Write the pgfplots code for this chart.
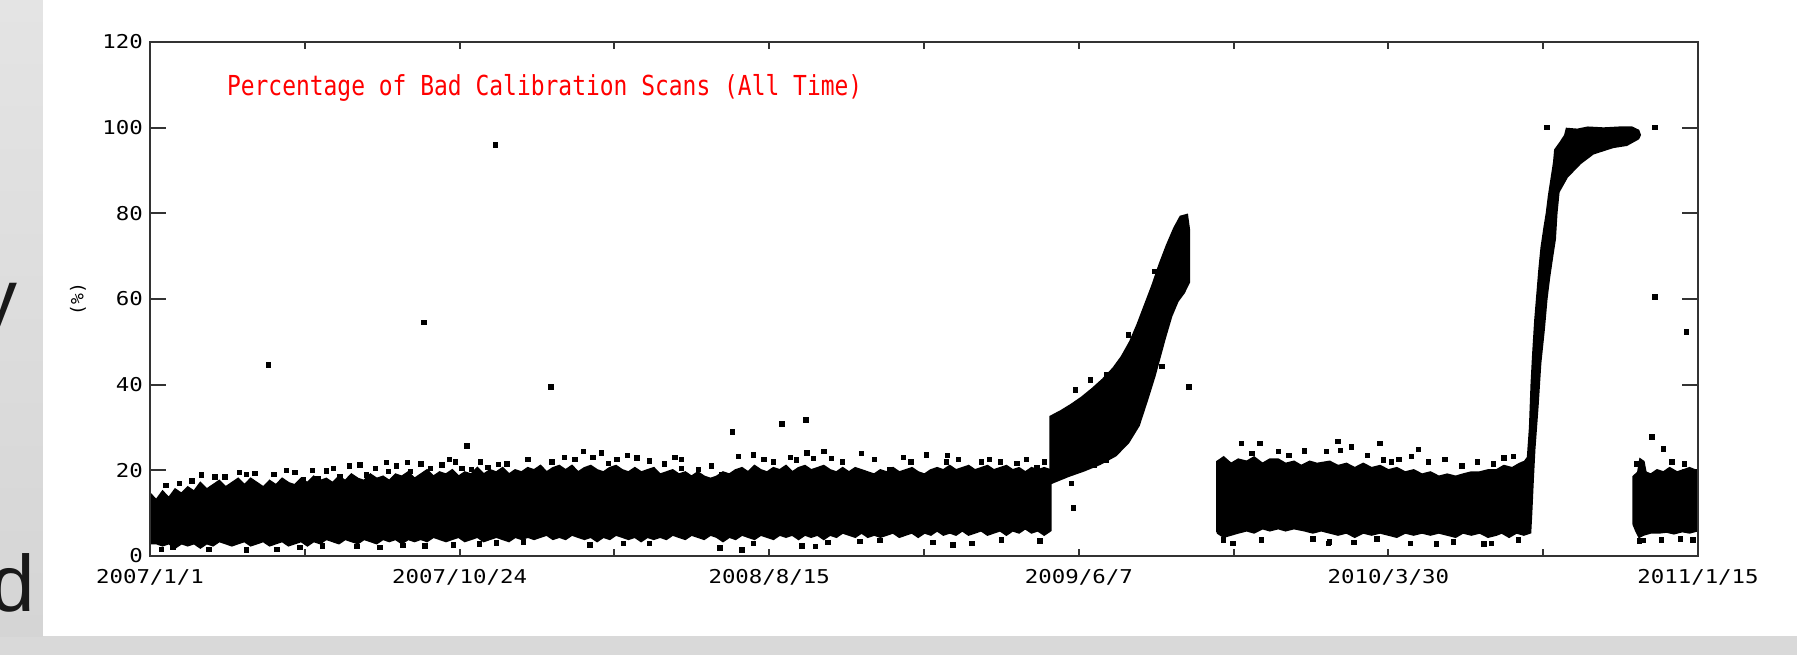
\documentclass[border=0pt]{standalone}
\usepackage{fontspec}
\usepackage{graphicx}
\usepackage{pgfplots}
\pgfplotsset{compat=1.18}
\setmainfont{Liberation Sans}
\newfontfamily\mono{DejaVu Sans Mono}
\definecolor{bgA}{HTML}{E4E4E4}
\definecolor{bgB}{HTML}{D5D5D5}
\definecolor{bgC}{HTML}{D9D9D9}
\definecolor{axc}{HTML}{333333}
\newcommand\tl[1]{\scalebox{1}[0.85]{#1}}
\begin{document}
\begin{tikzpicture}
\useasboundingbox (0,0) rectangle (898.5pt,327.5pt);
\fill[bgC] (0,0) rectangle (898.5pt,327.5pt);
\shade[top color=bgA, bottom color=bgB] (0,9.5pt) rectangle (21.5pt,327.5pt);
\fill[white] (21.5pt,9.5pt) rectangle (898.5pt,327.5pt);
\begin{scope}
\clip (0,9.5pt) rectangle (21.5pt,327.5pt);
\node[anchor=base east, inner sep=0, text=black!90, font=\fontsize{40}{48}\selectfont] at (9pt,164.75pt) {y};
\node[anchor=base east, inner sep=0, text=black!90, font=\fontsize{40}{48}\selectfont] at (17.75pt,22pt) {d};
\end{scope}
% y ticks axis
\begin{axis}[
  scale only axis, width=774pt, height=257pt,
  at={(75pt,49.5pt)}, anchor=south west,
  xmin=0, xmax=1475, ymin=0, ymax=120,
  axis line style={draw=none},
  xtick=\empty,
  ytick={0,20,40,60,80,100,120},
  yticklabels={\tl{0},\tl{20},\tl{40},\tl{60},\tl{80},\tl{100},\tl{120}},
  tick align=inside, major tick length=8pt,
  tick style={line width=1pt, draw=axc},
  yticklabel style={font=\mono\fontsize{11.2}{13}\selectfont, text=black},
  ylabel={(\%)},
  every axis y label/.style={at={(axis description cs:0,0.5)}, xshift=-36pt, rotate=90, anchor=center, font=\mono\fontsize{9}{11}\selectfont},
]
\end{axis}
% main axis with data
\begin{axis}[
  scale only axis, width=774pt, height=257pt,
  at={(75pt,49.5pt)}, anchor=south west,
  xmin=0, xmax=1475, ymin=0, ymax=120,
  axis on top,
  axis line style={line width=1pt, draw=axc},
  tick style={line width=1pt, draw=axc},
  tick align=inside, major tick length=3.5pt, minor tick length=3.5pt,
  ytick=\empty,
  xtick={0,295,590,885,1180,1475},
  xticklabels={\tl{2007/1/1},\tl{2007/10/24},\tl{2008/8/15},\tl{2009/6/7},\tl{2010/3/30},\tl{2011/1/15}},
  minor xtick={147.5,442.5,737.5,1032.5,1327.5},
  xticklabel style={font=\mono\fontsize{11.2}{13}\selectfont, text=black, yshift=-3pt},
]
% band 1 (dense core): upper edge, then lower edge back
\addplot[fill=black, draw=black, line width=1.2pt] coordinates {
(0,3) (0,14.5) (6,13) (12,15) (18,13.5) (24,15.5) (30,14.5) (36,16) (42,15) (48,17) (54,15.5) (60,16.5) (66,17.5) (72,16) (78,17) (84,18) (90,16.5) (96,18) (102,17) (108,16) (114,17.5) (120,16.5) (126,18) (132,17) (138,16.5) (144,18) (150,17) (156,18.5) (162,17.5) (168,18) (174,17) (180,18.5) (186,17.5) (192,19) (198,18) (204,17.5) (210,19) (216,18) (222,18.5) (228,17.5) (234,19) (240,18.5) (246,19.5) (252,18) (258,19) (264,20) (270,18.5) (276,19.5) (282,19) (288,20) (294,18.5) (300,19.5) (306,19) (312,20.5) (318,19) (324,20) (330,19.5) (336,20.5) (342,19) (348,20) (354,19.5) (360,20.5) (366,20) (372,21) (378,19.5) (384,20.5) (390,21) (396,20) (402,21) (408,19.5) (414,20.5) (420,21) (426,20) (432,19.5) (438,20.5) (444,21) (450,20) (456,19.5) (462,20.5) (468,19.5) (474,20) (480,20.5) (486,19) (492,19.5) (498,20) (504,19) (510,19.5) (516,18.5) (522,19.5) (528,18.5) (534,18) (540,18.5) (546,19.5) (552,19) (558,20) (564,20.5) (570,19.5) (576,21) (582,20) (588,19.5) (594,20.5) (600,20) (606,21) (612,19.5) (618,20.5) (624,21) (630,20) (636,20.5) (642,21) (648,20) (654,19.5) (660,20.5) (666,19.5) (672,20.5) (678,20) (684,19.5) (690,19) (696,20) (702,19.5) (708,20.5) (714,19.5) (720,20) (726,20.5) (732,19.5) (738,19) (744,20) (750,20.5) (756,20) (762,21) (768,20) (774,20.5) (780,21) (786,20) (792,20.5) (798,21) (804,20) (810,20.5) (816,21) (822,20) (828,20.5) (834,19.5) (840,20.5) (846,20) (852,20.5) (858,20)
(858,6) (852,5) (846,6) (840,5.5) (834,6.5) (828,5.5) (822,6) (816,5) (810,6) (804,5.5) (798,5) (792,6) (786,5.5) (780,5) (774,6) (768,5) (762,5.5) (756,5) (750,6) (744,5) (738,5.5) (732,4.5) (726,5.5) (720,5) (714,4.5) (708,5.5) (702,5) (696,4.5) (690,5) (684,4.5) (678,5.5) (672,4.5) (666,5) (660,5.5) (654,4.5) (648,5) (642,4) (636,5) (630,4.5) (624,5) (618,4) (612,5) (606,4.5) (600,5) (594,4) (588,4.5) (582,5) (576,4) (570,4.5) (564,5) (558,4) (552,4.5) (546,3.5) (540,4.5) (534,5) (528,4) (522,4.5) (516,5) (510,4) (504,4.5) (498,5) (492,4) (486,4.5) (480,4) (474,4.5) (468,3.5) (462,4.5) (456,4) (450,4.5) (444,5) (438,4) (432,4.5) (426,3.5) (420,4.5) (414,4) (408,4.5) (402,5) (396,4) (390,4.5) (384,4) (378,5) (372,4.5) (366,4) (360,4.5) (354,4) (348,4.5) (342,3.5) (336,4) (330,4.5) (324,4) (318,3.5) (312,4.5) (306,4) (300,3.5) (294,4.5) (288,4) (282,3.5) (276,4) (270,4.5) (264,3.5) (258,4) (252,3.5) (246,4) (240,3) (234,4) (228,3.5) (222,4) (216,3) (210,3.5) (204,4) (198,3) (192,3.5) (186,4) (180,3) (174,3.5) (168,4) (162,3) (156,3.5) (150,2.5) (144,3.5) (138,3) (132,2.5) (126,3.5) (120,3) (114,2.5) (108,3.5) (102,3) (96,2.5) (90,3.5) (84,3) (78,2.5) (72,3) (66,3.5) (60,2.5) (54,3) (48,2) (42,3) (36,2.5) (30,3) (24,2) (18,3) (12,2.5) (6,3) (0,3)
};
% band 2 (first rise)
\addplot[fill=black, draw=black, line width=1.2pt] coordinates {
(858,17) (858,32.5) (868,33.8) (878,35.3) (888,37) (898,39) (908,41.2) (918,43.8) (926,46.5) (934,50) (941,54) (948,58.5) (955,63) (962,68) (969,72.5) (976,76.5) (982,79.2) (988,79.6) (990,76)
(990,64) (985,61.5) (979,59.5) (973,56) (967,51) (962,46.5) (957,42) (950,36.5) (942,30.5) (932,26.5) (920,23.5) (905,21.5) (890,20) (875,18.7) (858,17)
};
% band 3 with steep rise and plateau
\addplot[fill=black, draw=black, line width=1.2pt] coordinates {
(1017,5.5) (1017,22) (1023,23) (1030,21.5) (1037,22.5) (1045,22) (1052,23) (1060,21.5) (1067,22.5) (1075,22.5) (1082,21.5) (1090,22) (1097,21) (1105,22) (1112,21.5) (1124,22) (1132,21) (1140,21.5) (1148,20.5) (1156,21.5) (1164,20.5) (1172,21) (1180,20) (1188,20.5) (1196,19.5) (1204,20) (1212,19) (1220,19.5) (1228,18.5) (1236,19) (1244,18.5) (1251,19) (1259,19.5) (1267,19.5) (1275,20) (1283,20) (1290,21) (1298,20.5) (1305,21.5) (1310,22) (1313,23)
(1315,30) (1316.5,40) (1318,47) (1320,55) (1322,61) (1324,67) (1326,72) (1329,77) (1331,80) (1333,84) (1335.5,88) (1338,92) (1339,94.8) (1344,96.5) (1348.5,98.2) (1350,99.7) (1360,99.5) (1370,100) (1385,99.8) (1400,100) (1412,100) (1418,99.3) (1419.5,98.3)
(1418,97.5) (1407,96) (1394,95.5) (1375,94) (1362.6,91.7) (1350,88.5) (1342,85) (1340,80) (1338.5,74) (1336,70) (1333,65) (1330.5,60) (1328,53) (1324.6,45) (1322,35) (1319,25) (1317.5,18) (1316,10)
(1315,5.5) (1309,5) (1302,5.5) (1295,4.5) (1288,5.5) (1283,5) (1275,4.5) (1267,5.5) (1259,5) (1251,5.5) (1244,4.5) (1236,5) (1228,5.5) (1220,5) (1212,5.5) (1204,5) (1196,5.5) (1188,4.5) (1180,5) (1172,5.5) (1164,5) (1156,5.5) (1148,4.5) (1140,5.5) (1132,5) (1124,5.5) (1116,6) (1108,5.5) (1100,6) (1090,6.5) (1082,6) (1075,6.5) (1067,6) (1060,6.5) (1052,5.5) (1045,6) (1037,5.5) (1030,5) (1023,4.5) (1017,5.5)
};
% band 4
\addplot[fill=black, draw=black, line width=1.2pt] coordinates {
(1413.5,7.5) (1413.5,18.5) (1418,19.5) (1420,22.5) (1423,22) (1425,19.5) (1430,19) (1436,20) (1442,19.5) (1448,20.5) (1455,19.5) (1461,20) (1467,20.5) (1472,20) (1474.5,20)
(1474.5,6) (1467,5.5) (1460,5.8) (1452,5.3) (1445,5.7) (1438,5.5) (1430,5.5) (1423,5) (1419,4.5) (1416,6) (1413.5,7.5)
};
% individual scans outside the dense bands
\addplot[only marks, mark=square*, mark size=1.1pt, black] coordinates {
(113,44.6) (261,54.6) (329,96) (302,25.7) (382,39.5) (555,29) (602,30.8) (625,31.8) (880,11.2) (990,39.5) (1331,100) (1434,100) (1434,60.5) (1464,52.3) (1431,27.8) (1442,25)
(49,18.9) (71.5,18.5) (92,19) (100,19.3) (138,19.5) (146,17.8) (160,18.1) (168,19.9) (181,18.5) (200,21.3) (206,18.9) (225.5,21.9) (227,19.7) (245,21.8) (248,19.7) (267,20.5) (278,21.3) (291,22) (297,20.5) (306.5,20.2) (322,20.7) (332,21.4) (346,18.5)
(383,22) (405,22.6) (413,24.4) (422,23) (430,24.1) (437,21.6) (464,22.9) (476,22.2) (506.6,22.6) (506.6,20.5) (522.5,20.2) (545,18.9) (560.6,23.3) (575,23.6) (594,22) (616,22.4) (626,24.1) (632,22.8) (642,24.4) (649.5,22.8) (678,24) (705,20.1) (718,23) (740,23.6)
(759,22) (792,22) (800,22.6) (826,21.6) (845,20.7)
(15,16.5) (28,17) (40,17.5) (62,18.5) (85,19.5) (118,19) (130,20) (155,20) (175,20.5) (190,21) (215,20.5) (235,21) (258,21.5) (285,22.5) (315,22) (340,21.5) (360,22.5) (395,23) (445,22.5) (455,23.5) (490,21.5) (500,23) (535,21) (585,22.5) (610,23) (660,22) (690,22.5) (725,22) (760,23.5) (770,22.5) (810,22) (835,22.5) (852,22)
(11,1.5) (22,2) (56,1.6) (92,1.4) (121,1.5) (143,2) (164,2.4) (197,2.2) (219,2) (241,2.5) (262,2.4) (289,2.6) (314,2.8) (330,3.1) (356,3.3)
(419,2.6) (451,3) (476,3) (543,1.9) (564,1.4) (575,3) (621,2.4) (634,2.3) (646,3.2) (676.5,3.4) (695.5,3.6) (746,3.2)
(765,2.6) (783,3) (811.5,3.8) (848,3.5)
(878,17) (891,20.8) (900,21.2) (911,22.4) (945,38.8) (896,41.1) (882,38.8) (911,42.3) (932,51.6) (957,66.4) (964,44.2)
(1040,26.3) (1057.7,26.3) (1075,24.4) (1121,24.4) (1132,26.7) (1134,24.7) (1145,25.5) (1172,26.3) (1208.6,24.9) (1175,22.4) (1183,22) (1218,22) (1234,22.6) (1202,23.2) (1299,23.2) (1290,22.9)
(1050,24) (1085,23.5) (1100,24.5) (1160,23.5) (1190,22.5) (1250,21) (1265,22) (1280,21.5)
(1059,3.8) (1032,3) (1108,4) (1123,3) (1023,3.8) (1147,3.2) (1201,3) (1226,2.8) (1271,2.8) (1278.4,3) (1242,3.3) (1124,3.3) (1169,4) (1304,3.8)
(1423,3.6) (1419,3.5) (1416,21.5) (1450,22) (1462,21.5) (1440,3.8) (1458,4) (1470,3.8)
};
\node[anchor=base west, inner sep=0, text=red] at (axis cs:73,107.6) {\scalebox{1}[1.2]{\mono\fontsize{11.47}{13}\selectfont Percentage of Bad Calibration Scans (All Time)}};
\end{axis}
\end{tikzpicture}
\end{document}
